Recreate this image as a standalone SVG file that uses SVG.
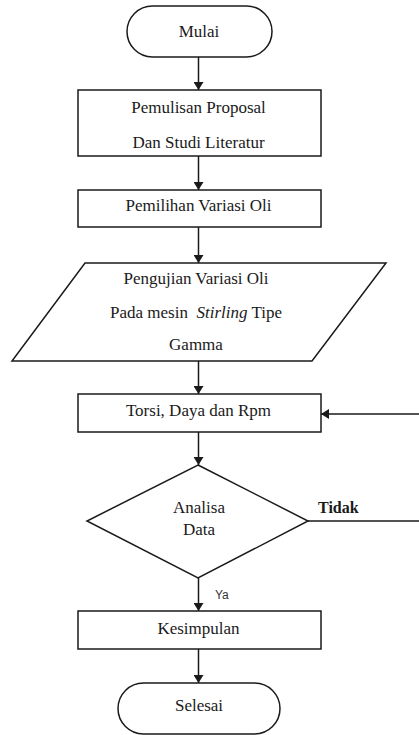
<svg xmlns="http://www.w3.org/2000/svg" width="419" height="735" viewBox="0 0 419 735">
<defs>
<marker id="ah" viewBox="0 0 8 10" refX="8" refY="5" markerWidth="8" markerHeight="10" markerUnits="userSpaceOnUse" orient="auto">
<path d="M0,0 L8,5 L0,10 Z" fill="#1a1a1a"/>
</marker>
<style>
.s{fill:#fff;stroke:#1a1a1a;stroke-width:1.5}
.c{stroke:#1a1a1a;stroke-width:1.5;fill:none}
.ca{stroke:#1a1a1a;stroke-width:1.5;fill:none;marker-end:url(#ah)}
.lbl{font-family:"Liberation Serif","Times New Roman",serif;font-size:17px;fill:#1a1a1a;text-anchor:middle}
</style>
</defs>
<rect width="419" height="735" fill="#fff"/>
<g id="connectors">
<line class="ca" x1="198.5" y1="57" x2="198.5" y2="90"/>
<line class="ca" x1="198.5" y1="156" x2="198.5" y2="190"/>
<line class="ca" x1="198.5" y1="227" x2="198.5" y2="263"/>
<line class="ca" x1="198.5" y1="361" x2="198.5" y2="394"/>
<line class="ca" x1="198.5" y1="432" x2="198.5" y2="465"/>
<line class="ca" x1="198.5" y1="578" x2="198.5" y2="611"/>
<line class="ca" x1="198.5" y1="649" x2="198.5" y2="683"/>
<line class="c" x1="308" y1="521" x2="419" y2="521"/>
<line class="ca" x1="419" y1="414" x2="321" y2="414"/>
<text x="318" y="513" font-family="Liberation Serif, Times New Roman, serif" font-size="16" font-weight="bold" fill="#1a1a1a">Tidak</text>
<text x="215" y="599" font-family="Liberation Sans, Arial, sans-serif" font-size="12" fill="#333">Ya</text>
</g>
<g id="mulai">
<rect class="s" x="127" y="6" width="145" height="51" rx="25.5"/>
<text class="lbl" x="199" y="37">Mulai</text>
</g>
<g id="penulisan">
<rect class="s" x="78" y="90" width="243" height="66"/>
<text class="lbl" x="198.5" y="113">Pemulisan Proposal</text>
<text class="lbl" x="198.5" y="148">Dan Studi Literatur</text>
</g>
<g id="pemilihan">
<rect class="s" x="78" y="190" width="243" height="37"/>
<text class="lbl" x="198.5" y="211">Pemilihan Variasi Oli</text>
</g>
<g id="pengujian">
<polygon class="s" points="85,263 386,263 312,361 12,361"/>
<text class="lbl" x="196" y="284">Pengujian Variasi Oli</text>
<text class="lbl" x="196" y="318" xml:space="preserve">Pada mesin  <tspan font-style="italic">Stirling</tspan> Tipe</text>
<text class="lbl" x="196" y="350">Gamma</text>
</g>
<g id="torsi">
<rect class="s" x="78" y="394" width="243" height="38"/>
<text class="lbl" x="198.5" y="416">Torsi, Daya dan Rpm</text>
</g>
<g id="analisa">
<polygon class="s" points="198,465 308,521 198,578 87,521"/>
<text class="lbl" x="199" y="513">Analisa</text>
<text class="lbl" x="199" y="535">Data</text>
</g>
<g id="kesimpulan">
<rect class="s" x="78" y="611" width="243" height="38"/>
<text class="lbl" x="198.5" y="634">Kesimpulan</text>
</g>
<g id="selesai">
<rect class="s" x="118" y="683" width="162" height="51" rx="25.5"/>
<text class="lbl" x="199" y="711">Selesai</text>
</g>
</svg>
